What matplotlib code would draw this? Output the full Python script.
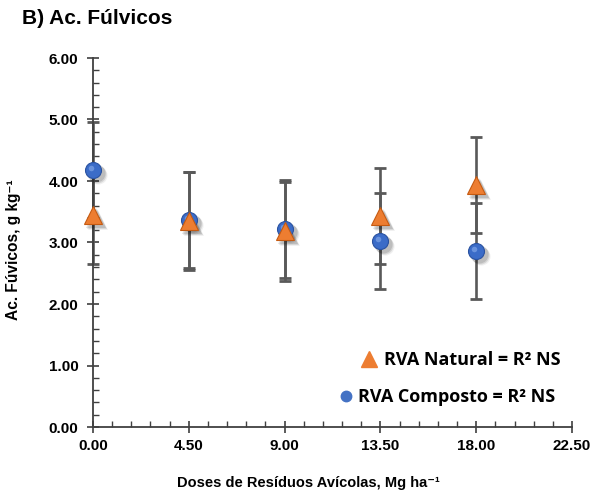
import matplotlib.pyplot as plt
import matplotlib.transforms as mtransforms
from matplotlib.lines import Line2D
from matplotlib.ticker import MultipleLocator

# Dati
doses = [0.0, 4.5, 9.0, 13.5, 18.0]
natural = [3.45, 3.35, 3.18, 3.43, 3.93]
natural_err = [0.80, 0.80, 0.80, 0.78, 0.78]
composto = [4.18, 3.37, 3.22, 3.03, 2.86]
composto_err = [0.78, 0.78, 0.80, 0.78, 0.78]

x_ticks = [0.0, 4.5, 9.0, 13.5, 18.0, 22.5]
y_ticks = [0, 1, 2, 3, 4, 5, 6]

plt.rcParams['font.family'] = ['Liberation Sans', 'DejaVu Sans']

fig = plt.figure(figsize=(6.0, 4.98), dpi=100)
ax = fig.add_axes([93 / 600, 1 - 427 / 498, (572 - 93) / 600, (427 - 58) / 498])

axis_col = '#404040'
err_col = '#595959'

# Barre di errore
ax.errorbar(doses, composto, yerr=composto_err, fmt='none', ecolor=err_col,
            elinewidth=1.9, capsize=4.5, capthick=2.0, zorder=2, clip_on=False)
ax.errorbar(doses, natural, yerr=natural_err, fmt='none', ecolor=err_col,
            elinewidth=1.9, capsize=4.5, capthick=2.0, zorder=2, clip_on=False)

# Ombre dei marcatori
for dx, dy, a in [(4, -4, 0.10), (3, -3, 0.12), (5, -5, 0.06)]:
    shadow = mtransforms.offset_copy(ax.transData, fig=fig, x=dx, y=dy, units='dots')
    ax.plot(doses, composto, 'o', ms=13, color='#000000', alpha=a, mew=0,
            transform=shadow, zorder=3, clip_on=False)
    ax.plot(doses, natural, '^', ms=14, color='#000000', alpha=a, mew=0,
            transform=shadow, zorder=3, clip_on=False)

# Marcatori
ax.plot(doses, composto, 'o', ms=11.5, mfc='#3B6CC8', mec='#2A52A0', mew=0.8,
        zorder=4, clip_on=False)
ax.plot(doses, composto, 'o', ms=4, mfc='#7FA4E6', mec='none', alpha=0.7,
        transform=mtransforms.offset_copy(ax.transData, fig=fig, x=-2, y=2, units='dots'),
        zorder=5, clip_on=False)
ax.plot(doses, natural, '^', ms=12.5, mfc='#ED7D31', mec='#C55A11', mew=0.8,
        zorder=6, clip_on=False)

ax.set_xlim(0, 22.5)
ax.set_ylim(0, 6)
ax.set_xticks(x_ticks)
ax.set_yticks(y_ticks)
ax.xaxis.set_minor_locator(MultipleLocator(0.9))
ax.yaxis.set_minor_locator(MultipleLocator(0.2))
ax.set_xticklabels([f'{v:.2f}' for v in x_ticks], fontweight='bold', fontsize=11)
ax.set_yticklabels([f'{v:.2f}' for v in y_ticks], fontweight='bold', fontsize=11)

ax.tick_params(which='major', direction='inout', length=9, width=1.2, color=axis_col)
ax.tick_params(which='minor', direction='in', length=4, width=1.0, color=axis_col)
ax.tick_params(axis='y', which='major', pad=6)
ax.tick_params(axis='x', which='major', pad=4)

for side in ['top', 'right']:
    ax.spines[side].set_visible(False)
for side in ['left', 'bottom']:
    ax.spines[side].set_color(axis_col)
    ax.spines[side].set_linewidth(1.3)

# Testi
fig.text(22 / 600, 1 - 19 / 498, 'B) Ac. Fúlvicos', fontsize=15, fontweight='bold',
         ha='left', va='center')
fig.text(14 / 600, 1 - 250 / 498, 'Ac. Fúvicos, g kg⁻¹', fontsize=11.2,
         fontweight='bold', rotation=90, ha='center', va='center')
fig.text(308 / 600, 1 - 483 / 498, 'Doses de Resíduos Avícolas, Mg ha⁻¹',
         fontsize=10.5, fontweight='bold', ha='center', va='center')

# Legende
leg_font = {'family': 'Open Sans', 'weight': 'bold', 'size': 13}
h1 = Line2D([], [], marker='^', ls='none', ms=11, color='#ED7D31')
h2 = Line2D([], [], marker='o', ls='none', ms=7.5, color='#4472C4')
leg1 = fig.legend([h1], ['RVA Natural = R² NS'], loc='center left',
                  bbox_to_anchor=(360 / 600, 1 - 360 / 498), frameon=False, prop=leg_font,
                  handlelength=1.0, handletextpad=0.35, borderpad=0, borderaxespad=0)
leg2 = fig.legend([h2], ['RVA Composto = R² NS'], loc='center left',
                  bbox_to_anchor=(337 / 600, 1 - 397 / 498), frameon=False, prop=leg_font,
                  handlelength=1.0, handletextpad=0.15, borderpad=0, borderaxespad=0)

fig.savefig('out.png', dpi=100)
